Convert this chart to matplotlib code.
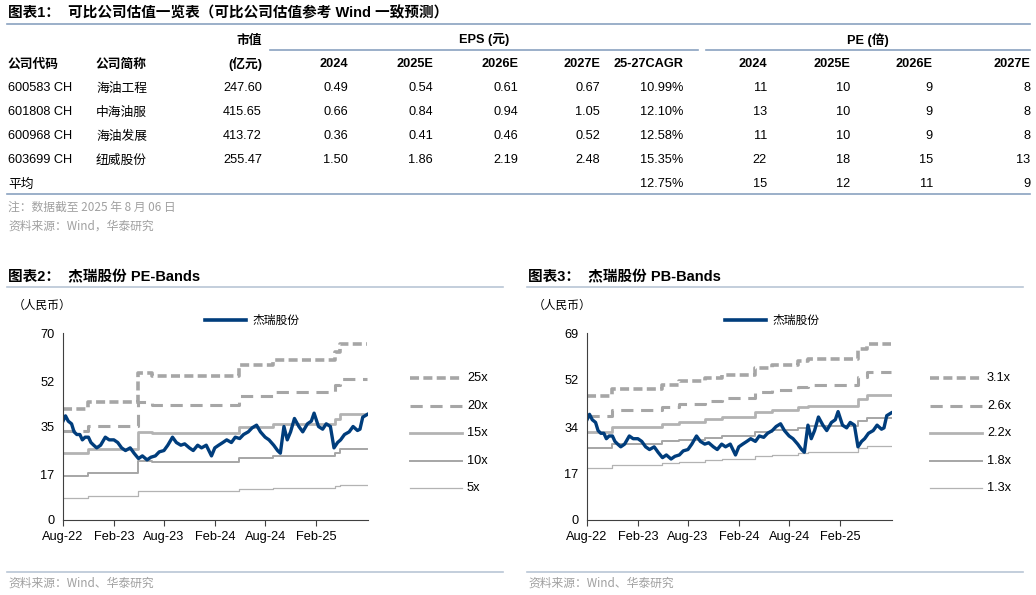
import matplotlib
matplotlib.use("Agg")
import matplotlib.pyplot as plt
import matplotlib.dates as mdates
import numpy as np
import pandas as pd
from matplotlib.lines import Line2D

plt.rcParams['font.family'] = ['Liberation Sans', 'Noto Sans CJK SC', 'DejaVu Sans']
CJK = ['Noto Sans CJK SC', 'DejaVu Sans']
W, H = 1036, 595
fig = plt.figure(figsize=(W/100, H/100), dpi=100)
LINEC = '#8aa2c0'

def T(x, y, s, **kw):
    kw.setdefault('fontsize', 9.2)
    kw.setdefault('va', 'center')
    fig.text(x/W, 1-y/H, s, **kw)

def HL(x0, x1, y, c=LINEC, lw=1.2):
    fig.add_artist(Line2D([x0/W, x1/W], [1-y/H, 1-y/H], color=c, lw=lw))

# ---------------- Table data ----------------
codes = ['600583 CH', '601808 CH', '600968 CH', '603699 CH']
names = ['海油工程', '中海油服', '海油发展', '纽威股份']
mktcap = ['247.60', '415.65', '413.72', '255.47']
eps24 = ['0.49', '0.66', '0.36', '1.50']
eps25 = ['0.54', '0.84', '0.41', '1.86']
eps26 = ['0.61', '0.94', '0.46', '2.19']
eps27 = ['0.67', '1.05', '0.52', '2.48']
cagr = ['10.99%', '12.10%', '12.58%', '15.35%']
pe24 = ['11', '13', '11', '22']
pe25 = ['10', '10', '10', '18']
pe26 = ['9', '9', '9', '15']
pe27 = ['8', '8', '8', '13']
avg_row = ['12.75%', '15', '12', '11', '9']
year_hdr = ['2024', '2025E', '2026E', '2027E']

T(8, 13, '图表1：  可比公司估值一览表（可比公司估值参考 Wind 一致预测）', fontweight='bold', fontsize=10.5, family=['Liberation Sans', 'Noto Sans CJK SC'])
HL(7, 1030, 24)
T(262, 40, '市值', ha='right', family=CJK, fontweight='bold')
T(484, 40, 'EPS (元)', ha='center', fontweight='bold')
T(868, 40, 'PE (倍)', ha='center', fontweight='bold')
HL(270, 698, 50)
HL(706, 1030, 50)
T(8, 64, '公司代码', family=CJK, fontweight='bold')
T(96, 64, '公司简称', family=CJK, fontweight='bold')
T(262, 64, '(亿元)', ha='right', fontweight='bold')
eps_x = [348, 433, 518, 600]
pe_x = [767, 850, 933, 1030]
for i, h in enumerate(year_hdr):
    T(eps_x[i], 64, h, ha='right', fontweight='bold')
    T(pe_x[i], 64, h, ha='right', fontweight='bold')
T(683, 64, '25-27CAGR', ha='right', fontweight='bold')
rows_y = [88, 112, 136, 160]
for r in range(4):
    y = rows_y[r]
    T(8, y, codes[r])
    T(96, y, names[r], family=CJK)
    T(262, y, mktcap[r], ha='right')
    for i, col in enumerate([eps24, eps25, eps26, eps27]):
        T(eps_x[i], y, col[r], ha='right')
    T(683, y, cagr[r], ha='right')
    for i, col in enumerate([pe24, pe25, pe26, pe27]):
        T(pe_x[i], y, col[r], ha='right')
T(8, 184, '平均', family=CJK)
T(683, 184, avg_row[0], ha='right')
for i in range(4):
    T(pe_x[i], 184, avg_row[i+1], ha='right')
HL(7, 1030, 194)
T(8, 207, '注：数据截至 2025 年 8 月 06 日', color='#a0a0a0', fontsize=8.5, family=CJK)
T(8, 226, '资料来源：Wind，华泰研究', color='#a0a0a0', fontsize=8.5, family=CJK)

# ---------------- Chart data ----------------
price_dates = ['2022-08-01','2022-08-10','2022-08-20','2022-09-01','2022-09-10','2022-09-20','2022-10-01','2022-10-10','2022-10-20',
 '2022-11-01','2022-11-10','2022-11-20','2022-12-01','2022-12-15','2023-01-01','2023-01-15','2023-02-01','2023-02-15','2023-03-01',
 '2023-03-15','2023-04-01','2023-04-15','2023-05-01','2023-05-15','2023-06-01','2023-06-15','2023-07-01','2023-07-15','2023-08-01',
 '2023-08-15','2023-09-01','2023-09-15','2023-10-01','2023-10-15','2023-11-01','2023-11-15','2023-12-01','2023-12-15','2024-01-01',
 '2024-01-20','2024-02-01','2024-02-15','2024-03-01','2024-03-15','2024-04-01','2024-04-15','2024-05-01','2024-05-15','2024-06-01',
 '2024-06-15','2024-07-01','2024-07-15','2024-08-01','2024-08-15','2024-09-01','2024-09-15','2024-09-25','2024-10-08','2024-10-20',
 '2024-11-01','2024-11-15','2024-12-01','2024-12-15','2025-01-01','2025-01-15','2025-01-25','2025-02-10','2025-02-25','2025-03-10',
 '2025-03-25','2025-04-07','2025-04-20','2025-05-01','2025-05-15','2025-06-01','2025-06-15','2025-07-01','2025-07-10','2025-07-20','2025-08-05']
price = [37, 39, 37, 36, 33, 32, 32, 30, 31, 31, 29, 28, 27, 28, 31, 30, 30, 29, 27, 26, 27, 25, 23, 24, 22.5, 23.5, 24, 25.5, 26,
 28, 31, 29, 28, 28.5, 27, 26, 28, 27, 28, 24, 27, 28, 29, 30, 29, 31, 30.5, 32, 33, 34.5, 35.5, 33, 31, 30, 28, 26, 25, 35, 30,
 33, 38, 35, 33, 36, 37, 40, 35, 34, 36, 35, 27, 29, 30, 32, 33, 35, 33.5, 34, 38.5, 39.5]

pe_step_dates = ['2022-08-01','2022-11-01','2023-04-28','2023-06-20','2024-04-28','2024-08-28','2025-04-10','2025-04-28','2025-08-05']
pe_eps = [1.66, 1.76, 2.20, 2.16, 2.32, 2.40, 2.52, 2.64, 2.64]
pe_mult = [25, 20, 15, 10, 5]
pe_labels = ['25x', '20x', '15x', '10x', '5x']

pb_step_dates = ['2022-08-01','2022-11-01','2023-05-01','2023-07-01','2023-10-01','2023-12-01','2024-04-01','2024-06-01',
 '2024-09-01','2024-10-10','2025-04-08','2025-05-10','2025-08-05']
pb_bvps = [14.8, 15.6, 16.1, 16.5, 16.9, 17.3, 18.1, 18.5, 18.9, 19.2, 20.3, 21.0, 21.0]
pb_mult = [3.1, 2.6, 2.2, 1.8, 1.3]
pb_labels = ['3.1x', '2.6x', '2.2x', '1.8x', '1.3x']

styles = [dict(color='#a6a6a6', lw=2.6, ls=(0, (2.5, 1.2))),
          dict(color='#a6a6a6', lw=2.2, ls=(0, (4, 2.5))),
          dict(color='#b3b3b3', lw=2.0, ls='-'),
          dict(color='#a6a6a6', lw=1.4, ls='-'),
          dict(color='#b3b3b3', lw=0.9, ls='-')]

def chart(ox, title, ax_x0, ax_x1, yticks, step_dates, base, mults, labels):
    T(ox+8, 277, title, fontweight='bold', fontsize=10.5, family=['Liberation Sans', 'Noto Sans CJK SC'])
    HL(ox+7, ox+503, 287, c='#b9c6d6')
    T(ox+13, 305, '（人民币）', fontsize=8.5, family=CJK)
    HL(ox+205, ox+246, 320, c='#003d7c', lw=2.6)
    T(ox+252, 320, '杰瑞股份', fontsize=8.5, family=CJK)
    ax = fig.add_axes([ax_x0/W, 1-520/H, (ax_x1-ax_x0)/W, (520-333)/H])
    sd = pd.to_datetime(step_dates)
    for m, st, lab in zip(mults, styles, labels):
        ax.plot(sd, np.array(base)*m, drawstyle='steps-post', **st)
    ax.plot(pd.to_datetime(price_dates), price, color='#003d7c', lw=2.4)
    ax.set_xlim(pd.Timestamp('2022-08-01'), pd.Timestamp('2025-08-08'))
    ax.set_ylim(0, yticks[-1])
    ax.set_yticks(yticks)
    ax.set_xticks(pd.to_datetime(['2022-08-01','2023-02-01','2023-08-01','2024-02-01','2024-08-01','2025-02-01']))
    ax.xaxis.set_major_formatter(mdates.DateFormatter('%b-%y'))
    for s in ['top', 'right']:
        ax.spines[s].set_visible(False)
    for s in ['left', 'bottom']:
        ax.spines[s].set_color('#404040')
    ax.tick_params(labelsize=9.2, length=4, color='#404040', direction='in')
    ax.tick_params(axis='x', direction='out', pad=4)
    ax.tick_params(axis='y', length=0, pad=6)
    ax.patch.set_alpha(0)
    ly = [378, 406, 433, 461, 488]
    for st, lab, y in zip(styles, labels, ly):
        fig.add_artist(Line2D([(ox+410)/W, (ox+462)/W], [1-y/H, 1-y/H], **st))
        T(ox+467, y, lab)
    HL(ox+7, ox+503, 572, c='#b9c6d6')
    T(ox+8, 583, '资料来源：Wind、华泰研究', color='#a0a0a0', fontsize=8.5, family=CJK)

chart(0, '图表2：  杰瑞股份 PE-Bands', 63, 368, [0, 17, 35, 52, 70], pe_step_dates, pe_eps, pe_mult, pe_labels)
chart(520, '图表3：  杰瑞股份 PB-Bands', 587, 892, [0, 17, 34, 52, 69], pb_step_dates, pb_bvps, pb_mult, pb_labels)

fig.savefig('out.png', dpi=100)
